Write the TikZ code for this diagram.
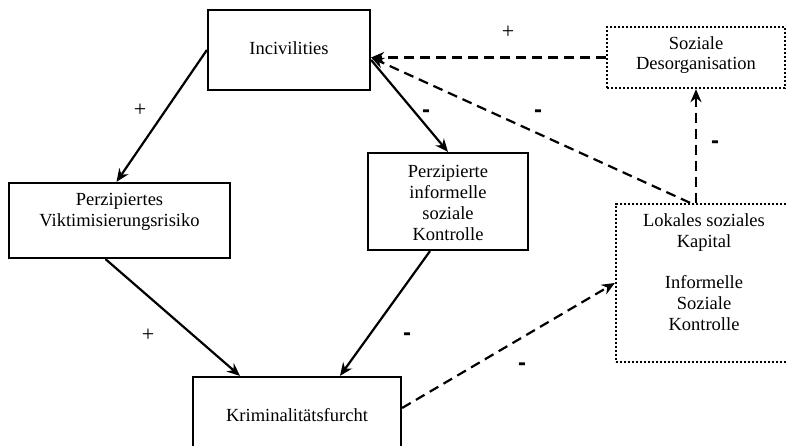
\documentclass[tikz,border=0pt]{standalone}
\usepackage{fontspec}
\setmainfont{Liberation Serif}
\newfontfamily\signfont{Liberation Sans}
\usetikzlibrary{arrows.meta,calc}
\tikzset{
  solidbox/.style={draw, line width=2.2pt, rectangle, inner sep=0pt},
  dotbox/.style={draw, line width=2.4pt, dash pattern=on 2.2pt off 1.8pt, rectangle, inner sep=0pt},
  txt/.style={align=center, inner sep=0pt, font=\fontsize{18.5}{20.8}\selectfont},
  conn/.style={line width=2.2pt, -{Stealth[length=13pt,width=11pt]}},
  dconn/.style={conn, dash pattern=on 10pt off 6pt},
  plus/.style={inner sep=0pt, font=\fontsize{22}{24}\selectfont},
  minus/.style={inner sep=0pt, font=\signfont\bfseries\fontsize{24}{26}\selectfont}
}
\begin{document}
\begin{tikzpicture}[x=1pt,y=-1pt]
\useasboundingbox (0,0) rectangle (787,446);
% boxes
\node[solidbox, minimum width=162pt, minimum height=80pt] (inc) at (289,50) {};
\node[txt] (inct) at (289,48) {Incivilities};
\node[solidbox, minimum width=221pt, minimum height=75pt] (pvr) at (119.5,220.5) {};
\node[txt] (pvrt) at (119.5,212) {Perzipiertes\\Viktimisierungsrisiko};
\node[solidbox, minimum width=160pt, minimum height=97pt] (pik) at (448,201.5) {};
\node[txt] (pikt) at (448,203) {Perzipierte\\informelle\\soziale\\Kontrolle};
\node[solidbox, minimum width=208pt, minimum height=76pt] (krim) at (297,415) {};
\node[txt] (krimt) at (297,415) {Kriminalitätsfurcht};
\node[dotbox, minimum width=178pt, minimum height=61pt] (soz) at (696,57.5) {};
\node[txt] (sozt) at (696,55) {Soziale\\Desorganisation};
\node[dotbox, minimum width=172pt, minimum height=158pt] (lok) at (702,283) {};
\node[txt] (lokt) at (704,272) {Lokales soziales\\Kapital\\[20.8pt]Informelle\\Soziale\\Kontrolle};
% connectors
\draw[conn] (inc.west) -- ([xshift=-3pt]pvr.north);
\draw[conn] ([yshift=-10pt]inc.east) -- (pik.north);
\draw[conn] ([xshift=-14pt]pvr.south) -- ([xshift=-57pt]krim.north);
\draw[conn] ([xshift=-18pt]pik.south) -- ([xshift=43pt]krim.north);
\draw[dconn] ([yshift=7pt]krim.east) -- (lok.west);
\draw[dconn] (soz.south |- lok.north) -- (soz.south);
\draw[dconn] ([xshift=-12pt]lok.north) -- ([yshift=-7.5pt]inc.east);
\draw[dconn] (soz.west) -- ([yshift=-7.5pt]inc.east);
% signs
\node[plus] (s1) at (508,32) {+};
\node[plus] (s2) at (140,110) {+};
\node[minus] (s3) at (426,114) {-};
\node[minus] (s4) at (538,114) {-};
\node[minus] (s5) at (715,145) {-};
\node[plus] (s6) at (148,335) {+};
\node[minus] (s7) at (407,337) {-};
\node[minus] (s8) at (522,367) {-};
\end{tikzpicture}
\end{document}
